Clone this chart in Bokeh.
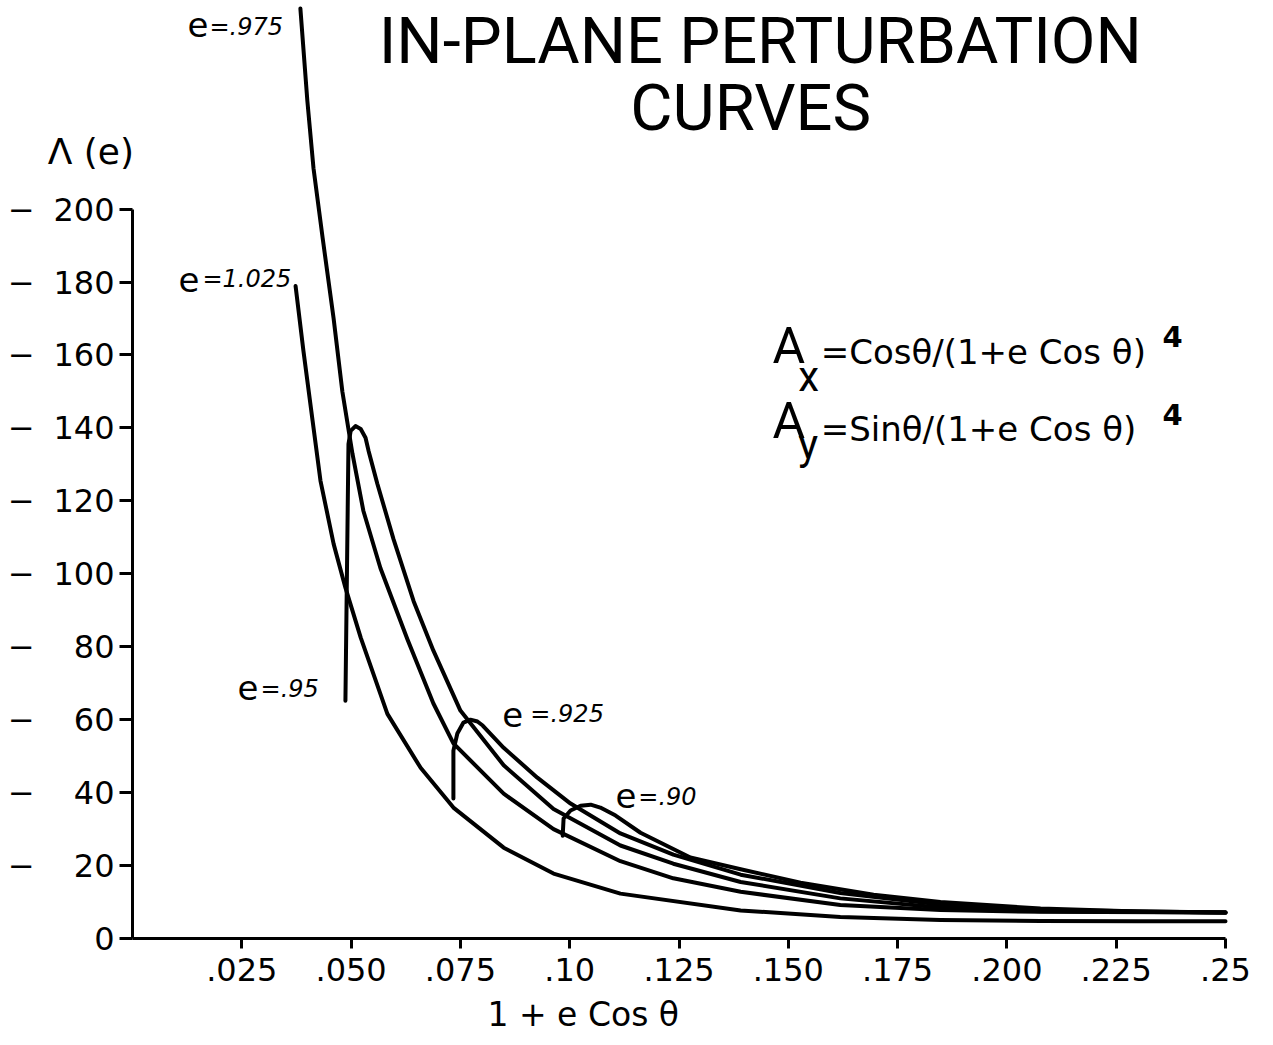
from bokeh.plotting import figure
from bokeh.models import Label, LabelSet, ColumnDataSource, FixedTicker, Range1d, LinearAxis
from bokeh.embed import file_html
from bokeh.resources import INLINE
from bokeh.core.properties import value

# ---------------- data ----------------
x_ticks = [0.025, 0.05, 0.075, 0.1, 0.125, 0.15, 0.175, 0.2, 0.225, 0.25]
x_tick_labels = [".025", ".050", ".075", ".10", ".125", ".150", ".175", ".200", ".225", ".25"]
y_ticks = [0, 20, 40, 60, 80, 100, 120, 140, 160, 180, 200]
y_tick_labels = ["0", "20", "40", "60", "80", "100", "120", "140", "160", "180", "200"]

# e = 1.025
e1025_x = [0.0373, 0.0391, 0.0412, 0.0430, 0.0460, 0.0487, 0.0522, 0.0583, 0.0659, 0.0734,
           0.0849, 0.0963, 0.1116, 0.1391, 0.1619, 0.1848, 0.2077, 0.2300, 0.2500]
e1025_y = [178.9, 161.1, 141.9, 125.5, 108.2, 96.2, 82.5, 61.6, 46.8, 35.9,
           24.9, 17.8, 12.3, 7.7, 5.9, 5.1, 4.8, 4.7, 4.7]

# e = .975
e0975_x = [0.0384, 0.0400, 0.0414, 0.0435, 0.0460, 0.0480, 0.0503, 0.0528, 0.0567, 0.0629,
           0.0688, 0.0734, 0.0849, 0.0963, 0.1116, 0.1237, 0.1391, 0.1619, 0.1848, 0.2077, 0.2500]
e0975_y = [255.0, 229.6, 211.2, 192.0, 170.0, 150.0, 133.0, 117.3, 101.6, 82.0,
           64.5, 53.5, 39.7, 30.0, 21.2, 16.5, 12.8, 9.2, 7.8, 7.3, 7.1]

# e = .95
e095_x = [0.0487, 0.0494, 0.0499, 0.0510, 0.0522, 0.0533, 0.0540, 0.0560, 0.0597, 0.0643,
          0.0688, 0.0750, 0.0849, 0.0963, 0.1116, 0.1237, 0.1391, 0.1619, 0.1848, 0.2077, 0.2500]
e095_y = [65.2, 135.6, 139.2, 140.5, 139.7, 137.3, 133.7, 124.7, 109.5, 92.5,
          79.0, 62.5, 47.5, 35.5, 25.5, 20.5, 15.5, 11.0, 8.5, 7.5, 7.1]

# e = .925
e0925_x = [0.0734, 0.0734, 0.0743, 0.0757, 0.0773, 0.0789, 0.0801, 0.0849, 0.0926, 0.1002,
           0.1116, 0.1237, 0.1391, 0.1619, 0.1848, 0.2077, 0.2500]
e0925_y = [38.4, 51.5, 56.2, 59.2, 60.0, 59.5, 58.4, 52.3, 44.1, 37.0,
           28.8, 23.0, 17.5, 12.5, 9.3, 7.8, 7.1]

# e = .90
e090_x = [0.0984, 0.0986, 0.1002, 0.1025, 0.1048, 0.1070, 0.1105, 0.1162, 0.1276, 0.1391,
          0.1528, 0.1695, 0.1848, 0.2077, 0.2300, 0.2500]
e090_y = [28.2, 32.9, 35.1, 36.4, 36.7, 35.9, 33.7, 29.0, 22.2, 19.0,
          15.3, 12.0, 10.0, 8.2, 7.4, 7.1]

curves = [(e1025_x, e1025_y), (e0975_x, e0975_y), (e095_x, e095_y),
          (e0925_x, e0925_y), (e090_x, e090_y)]

# ---------------- figure (frame fills the canvas; axes sit at x=0, y=0) ----------------
PX_PER_UNIT_Y = 3.647
p = figure(width=1265, height=1040,
           x_range=Range1d(-0.030192, 0.259149), y_range=Range1d(-27.97, 257.2),
           output_backend="svg", toolbar_location=None,
           x_axis_location=None, y_axis_location=None,
           min_border_left=0, min_border_right=0,
           min_border_top=0, min_border_bottom=0)
p.grid.visible = False
p.outline_line_color = None
p.background_fill_color = "white"
p.border_fill_color = "white"

for xs, ys in curves:
    p.line(xs, ys, line_color="black", line_width=4,
           line_join="round", line_cap="round")

xaxis = LinearAxis(fixed_location=0, ticker=FixedTicker(ticks=x_ticks),
                   major_label_overrides=dict(zip(x_ticks, x_tick_labels)),
                   bounds=(0, 0.25))
yaxis = LinearAxis(fixed_location=0, ticker=FixedTicker(ticks=y_ticks),
                   major_label_overrides=dict(zip(y_ticks, y_tick_labels)),
                   bounds=(0, 200))
for ax in (xaxis, yaxis):
    ax.axis_line_width = 3
    ax.axis_line_color = "black"
    ax.major_tick_line_width = 3
    ax.major_tick_line_color = "black"
    ax.major_tick_in = 0
    ax.minor_tick_line_color = None
    ax.major_label_text_font = "DejaVu Sans"
    ax.major_label_text_color = "black"
xaxis.major_tick_out = 10
xaxis.major_label_text_font_size = "32px"
xaxis.major_label_standoff = 10
yaxis.major_tick_out = 13
yaxis.major_label_text_font_size = "32px"
yaxis.major_label_standoff = 5
p.add_layout(xaxis, "below")
p.add_layout(yaxis, "left")

# dashes in front of the y tick labels
dash_src = ColumnDataSource(dict(x=[-0.0254] * 10, y=y_ticks[1:], t=["\u2212"] * 10))
p.add_layout(LabelSet(x="x", y="y", text="t", source=dash_src,
                      text_font=value("DejaVu Sans"), text_font_size="32px",
                      text_align="center", text_baseline="middle",
                      text_color="black"))

def lab(x, y, t, size, font="DejaVu Sans", align="left", style="normal"):
    # y is the wanted baseline; lift it by the offset the renderer adds
    y_adj = y + 0.39 * size / PX_PER_UNIT_Y
    p.add_layout(Label(x=x, y=y_adj, text=t, text_font=font, text_font_size=f"{size}px",
                       text_align=align, text_baseline="alphabetic",
                       text_font_style=style, text_color="black"))

# axis titles
lab(-0.0194, 212.0, "\u039b (e)", 36)
lab(0.1043, -24.4, "1 + e  Cos \u03b8", 33, align="center")

# title
lab(0.1436, 239.1, "IN-PLANE PERTURBATION", 65, font="Roboto", align="center")
lab(0.1414, 220.7, "CURVES", 65, font="Roboto", align="center")

# formulas
lab(0.1464, 157.1, "A", 50, font="Roboto")
lab(0.1523, 149.7, "x", 42, font="Roboto")
lab(0.1574, 157.1, "=Cos\u03b8/(1+e Cos \u03b8)", 34)
lab(0.2356, 162.1, "4", 29, style="bold")

lab(0.1464, 136.5, "A", 50, font="Roboto")
lab(0.1523, 131.1, "y", 42, font="Roboto")
lab(0.1574, 136.0, "=Sin\u03b8/(1+e Cos \u03b8)", 34)
lab(0.2356, 140.7, "4", 29, style="bold")

# curve labels: upright "e" followed by italic value
curve_labels = [
    (0.0126, 247.0, 0.0176, 247.5, "=.975"),
    (0.0105, 177.1, 0.0160, 178.2, "=1.025"),
    (0.0240, 65.3, 0.0293, 65.8, "=.95"),
    (0.0846, 57.9, 0.0910, 59.0, "=.925"),
    (0.1105, 35.6, 0.1157, 36.2, "=.90"),
]
for ex, ey, vx, vy, t in curve_labels:
    lab(ex, ey, "e", 34)
    lab(vx, vy, t, 24, style="italic")

open("out.html", "w").write(file_html(p, INLINE))
